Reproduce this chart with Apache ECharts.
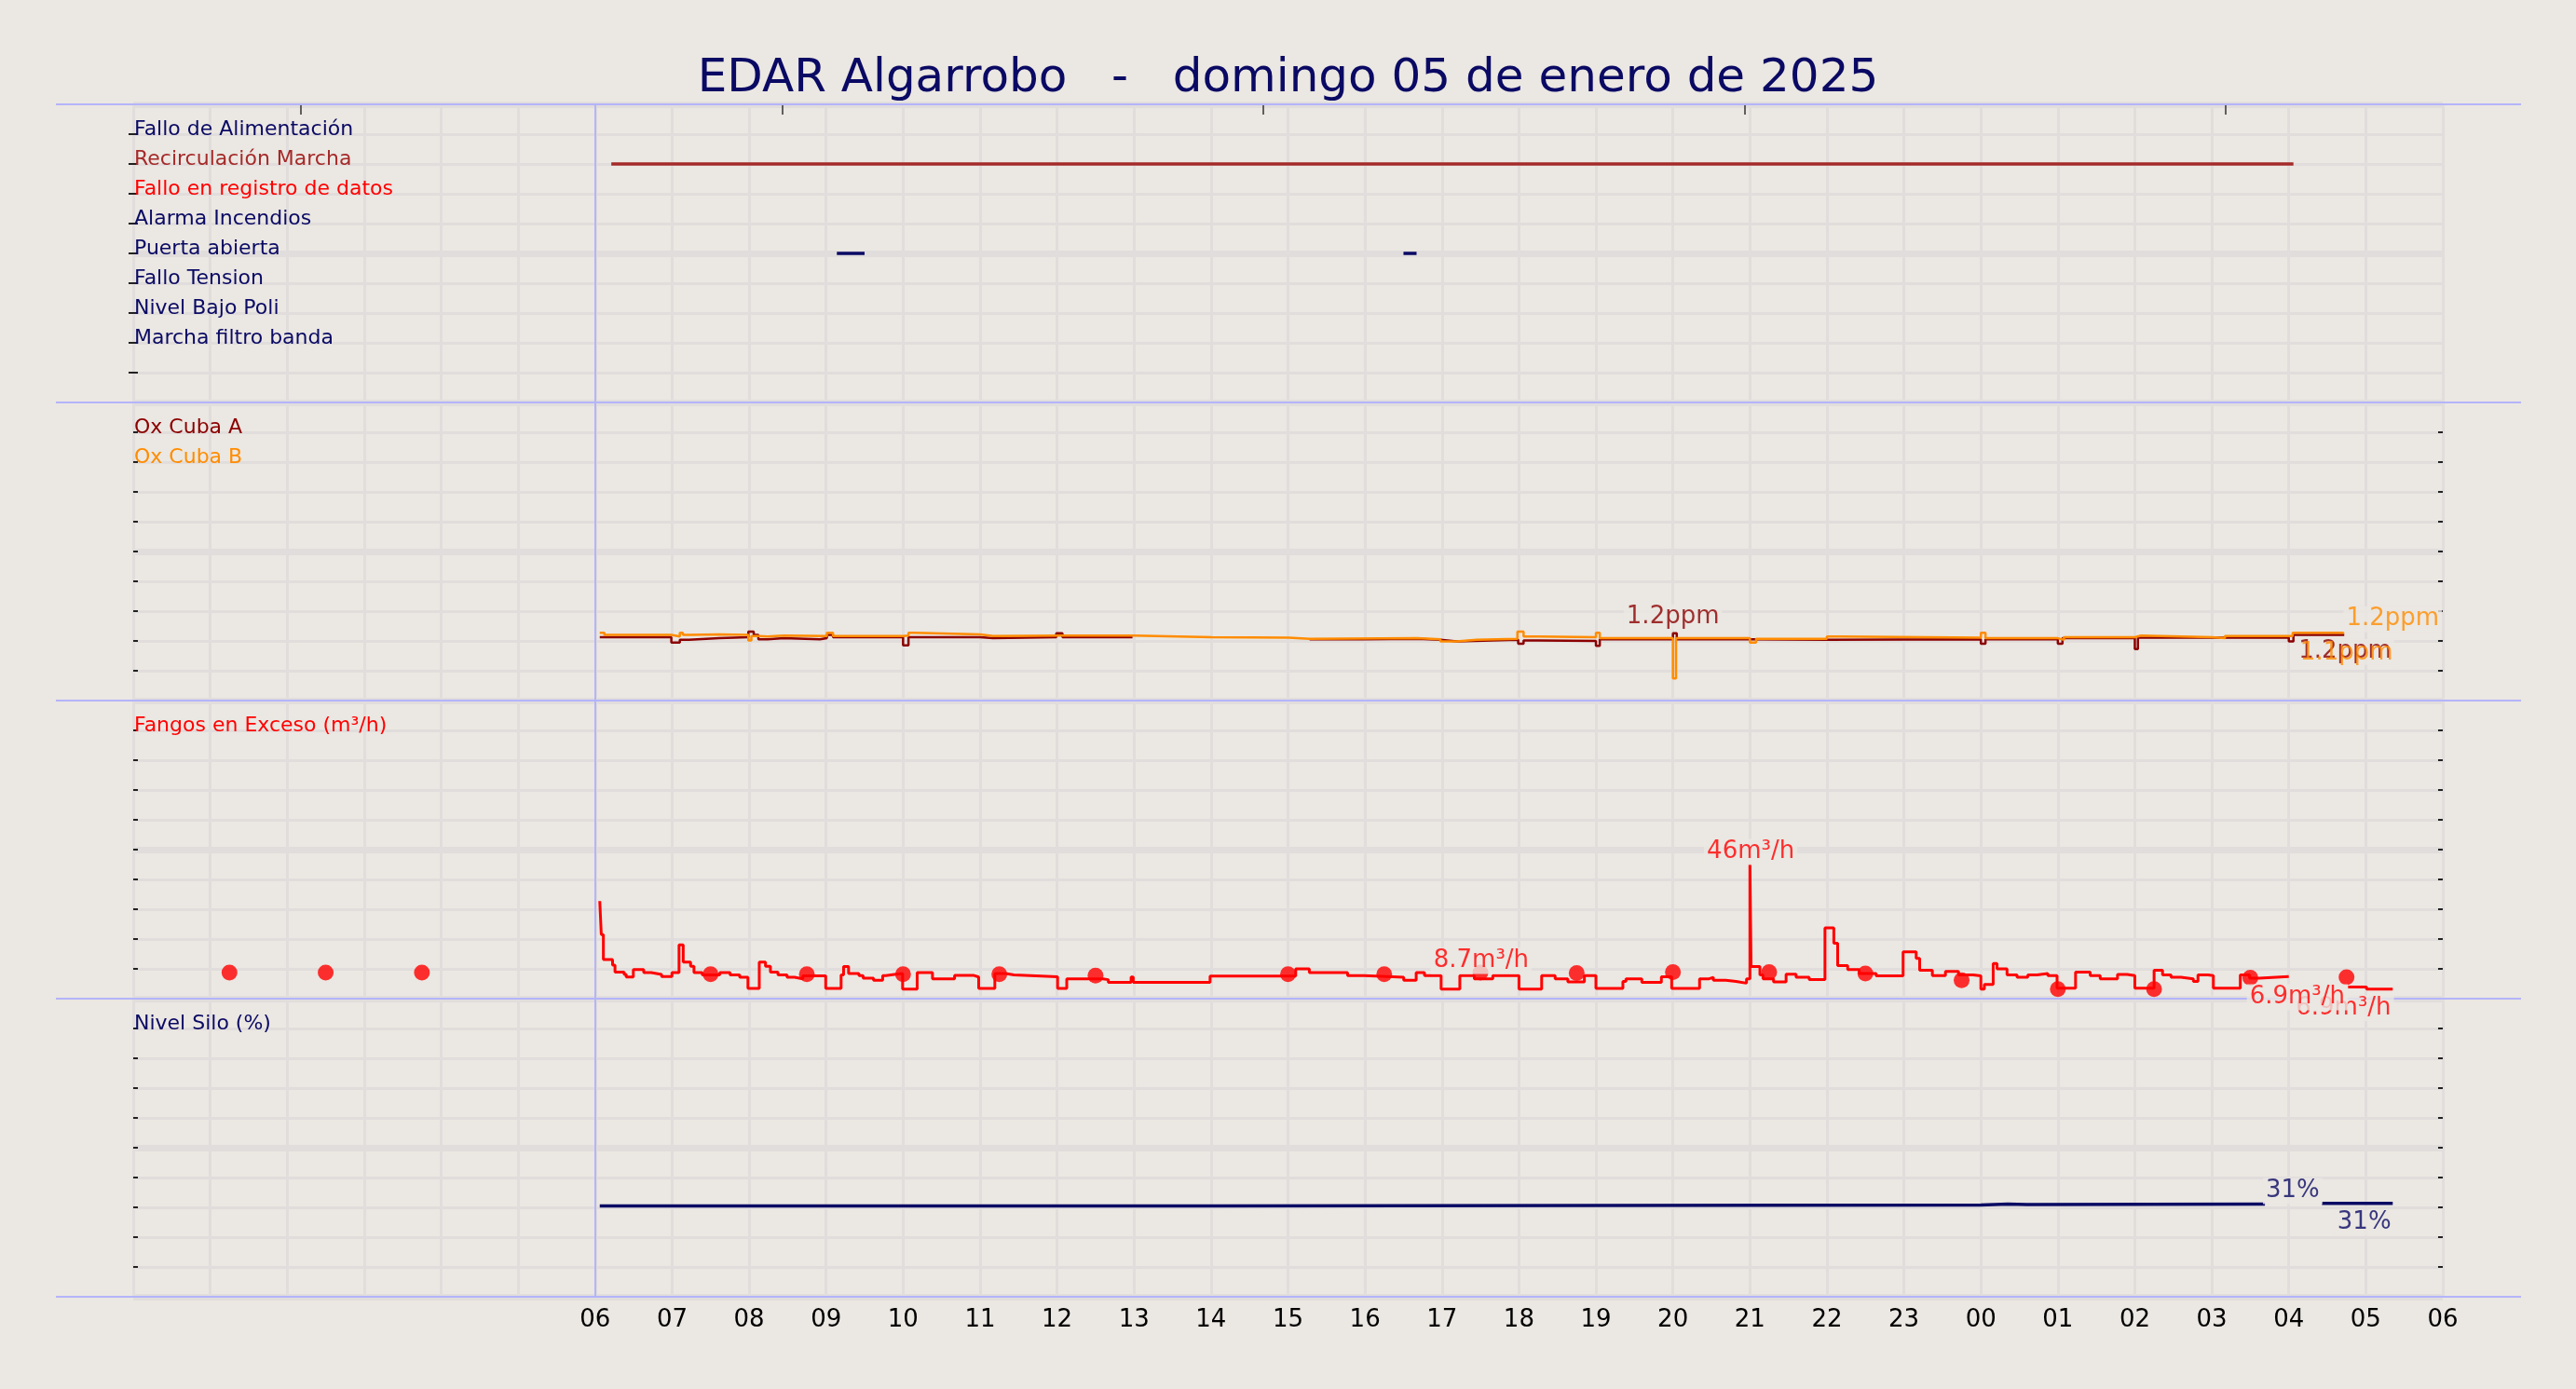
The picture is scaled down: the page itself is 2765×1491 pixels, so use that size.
<!DOCTYPE html>
<html><head><meta charset="utf-8">
<script src="https://cdn.jsdelivr.net/npm/echarts@6/dist/echarts.min.js"></script>
<style>html,body{margin:0;padding:0;background:#ebe7e2;}#c{width:2765px;height:1491px;}</style>
</head><body><div id="c"></div>
<script>
// ---------------- data ----------------
const chartTitle = 'EDAR Algarrobo   -   domingo 05 de enero de 2025';
// x axis: hours counted from 00:00 (0..30)
const hourMin = 0, hourMax = 30, firstLabelHour = 6;
const topTicks = [2.18, 8.43, 14.68, 20.93, 27.18];

const signalNames = ['Fallo de Alimentación', 'Recirculación Marcha', 'Fallo en registro de datos', 'Alarma Incendios',
  'Puerta abierta', 'Fallo Tension', 'Nivel Bajo Poli', 'Marcha filtro banda'];
const recircOn = [[6.21, 28.06]];
const puertaOn = [[9.14, 9.50], [16.50, 16.67]];

const oxNames = ['Ox Cuba A', 'Ox Cuba B'];
const oxA = [[6.06,1.17],[6.99,1.07],[7.10,1.12],[7.22,1.15],[7.61,1.17],[7.99,1.27],[8.06,1.21],[8.12,1.13],[8.24,1.15],
  [8.45,1.13],[8.92,1.15],[9.01,1.21],[9.09,1.17],[10.0,1.02],[10.07,1.17],[11.0,1.15],[11.17,1.17],[11.99,1.24],[12.07,1.17],
  [12.98,1.17],[12.98,null],[15.28,1.13],[15.98,1.14],[16.68,1.12],[16.98,1.09],[17.19,1.12],[17.99,1.05],[18.06,1.11],
  [18.25,1.10],[19.0,1.01],[19.05,1.13],[20.0,1.24],[20.05,1.13],[21.0,1.12],[22.0,1.13],[24.0,1.05],[24.06,1.13],
  [25.0,1.05],[25.06,1.15],[26.0,0.95],[26.04,1.16],[28.0,1.09],[28.06,1.21],[28.72,1.21]];
const oxB = [[6.06,1.25],[6.12,1.21],[6.99,1.18],[7.10,1.25],[7.14,1.21],[7.22,1.22],[7.61,1.21],[7.99,1.11],[8.03,1.19],
  [8.12,1.18],[8.24,1.20],[8.45,1.19],[9.01,1.25],[9.09,1.19],[10.0,1.20],[10.07,1.25],[10.15,1.22],[11.0,1.19],[11.17,1.20],
  [12.06,1.20],[12.99,1.17],[14.01,1.16],[15.01,1.14],[15.28,1.15],[16.68,1.13],[16.98,1.09],[17.19,1.12],[17.45,1.14],
  [17.98,1.27],[18.06,1.18],[18.25,1.17],[19.0,1.25],[19.05,1.15],[20.0,0.41],[20.04,1.15],[21.0,1.07],[21.08,1.14],
  [22.0,1.18],[22.17,1.16],[24.0,1.25],[24.06,1.15],[25.0,1.12],[25.08,1.17],[26.0,1.20],[26.08,1.17],[27.0,1.15],
  [27.17,1.19],[28.05,1.25],[28.72,1.25]];
const oxNotesA = [[20.0, 1.54, '1.2ppm'], [28.73, 0.90, '1.2ppm']];
const oxNotesB = [[29.35, 1.50, '1.2ppm'], [28.75, 0.87, '1.1ppm']];

const fangosNames = ['Fangos en Exceso (m³/h)'];
const fangos = [[6.06,33.4],[6.08,21.9],[6.107,13.4],[6.226,11.5],[6.258,9.1],[6.377,8.3],[6.404,7.4],[6.496,10.0],
  [6.631,8.9],[6.728,8.3],[6.863,7.6],[6.998,8.9],[7.09,18.4],[7.144,12.5],[7.24,11.1],[7.284,8.9],[7.392,8.1],[7.619,8.9],
  [7.753,8.1],[7.878,7.3],[7.985,3.5],[8.132,12.5],[8.213,11.1],[8.277,9.1],[8.375,8.1],[8.493,7.3],[8.59,6.8],[8.698,7.8],
  [8.995,3.5],[9.195,8.1],[9.227,11.0],[9.292,8.6],[9.427,7.9],[9.481,7.0],[9.616,6.3],[9.735,7.9],[9.777,8.3],[9.886,8.6],
  [9.994,3.3],[10.183,8.9],[10.382,6.8],[10.669,8.0],[10.912,7.4],[10.982,3.5],[11.192,8.6],[11.333,8.1],[11.44,7.5],
  [12.007,3.5],[12.126,6.8],[12.596,6.5],[12.666,5.6],[12.962,7.4],[12.99,5.6],[13.988,7.7],[15.1,10.2],[15.277,8.9],
  [15.774,7.9],[15.99,7.3],[16.503,6.3],[16.665,8.9],[16.773,7.9],[16.989,3.3],[17.232,7.9],[17.42,6.8],[17.66,7.9],
  [18.0,3.3],[18.295,7.9],[18.47,6.8],[18.635,5.7],[18.85,7.9],[19.0,3.5],[19.35,5.9],[19.39,6.8],[19.596,5.6],[19.85,7.5],
  [19.984,3.5],[20.346,6.8],[20.47,7.3],[20.525,6.3],[20.687,5.9],[20.82,5.3],[20.956,6.8],[21.0,46.0],[21.015,11.0],
  [21.13,8.1],[21.17,6.8],[21.307,5.7],[21.47,8.4],[21.6,7.3],[21.77,6.5],[21.975,24.2],[22.09,19.0],[22.14,11.3],
  [22.27,10.0],[22.42,8.6],[22.64,7.8],[22.99,16.0],[23.16,13.8],[23.205,9.7],[23.37,7.9],[23.54,9.3],[23.71,8.1],
  [23.90,7.8],[24.0,3.3],[24.045,4.9],[24.16,12.0],[24.21,10.2],[24.34,8.1],[24.47,7.3],[24.61,8.1],[24.73,8.6],[24.87,7.9],
  [24.99,3.6],[25.23,9.1],[25.42,7.9],[25.55,6.8],[25.775,8.3],[25.90,7.9],[26.0,3.6],[26.25,9.7],[26.36,8.1],[26.47,7.3],
  [26.6,6.8],[26.76,5.9],[26.82,8.1],[26.95,7.9],[27.02,3.6],[27.37,8.1],[27.49,7.0],[27.62,7.6],[28.0,7.6],[28.0,null],
  [28.77,4.0],[29.01,3.3],[29.35,3.3]];
const fangosSamples = [[1.25,8.9],[2.5,8.9],[3.75,8.9],[7.5,8.4],[8.75,8.4],[10.0,8.4],[11.25,8.4],[12.5,7.9],[15.0,8.4],
  [16.25,8.4],[17.5,8.9],[18.75,8.8],[20.0,9.1],[21.25,9.1],[22.5,8.6],[23.75,6.3],[25.0,3.3],[26.25,3.3],[27.5,7.2],[28.75,7.3]];
const fangosNotes = [[28.71, -3.3, '6.9m³/h'], [21.01, 50.2, '46m³/h'], [17.51, 12.9, '8.7m³/h'], [28.11, 0.5, '6.9m³/h']];

const siloNames = ['Nivel Silo (%)'];
const silo = [[6.06,30.5],[14.0,30.8],[24.0,31.1],[24.35,30.9],[24.6,31.1],[27.69,31.1],[27.69,null],[28.43,31.3],[29.35,31.3]];
const siloNotes = [[28.05, 35.5, '31%'], [28.98, 24.8, '31%']];

// ---------------- style ----------------
const FONT = 'DejaVu Sans';
const BG = '#ebe7e2', GRID = '#e1dddc', LAV = '#b4b4fa', NAVY = '#0a0a64', TICK = '#222';
const BROWN = '#a52a2a', RED = '#ff0000', DARKRED = '#8b0000', ORANGE = '#ff8c00';
const signalColors = [NAVY, BROWN, RED, NAVY, NAVY, NAVY, NAVY, NAVY];
const PANEL_TOP = 112, PANEL_H = 320, SIDE = 143;

function levelData(intervals, level) {
  const d = [];
  intervals.forEach(([a, b], i) => { if (i > 0) d.push([a, null]); d.push([a, level], [b, level]); });
  return d;
}
const pad2 = n => (n < 10 ? '0' : '') + n;

const grids = [0,1,2,3].map(i => ({left: SIDE, right: SIDE, top: PANEL_TOP + PANEL_H * i, height: PANEL_H}));
grids.push({left: 60, right: 59, top: PANEL_TOP, height: PANEL_H * 4});

const xAxes = [0,1,2,3].map(i => ({
  gridIndex: i, type: 'value', min: hourMin, max: hourMax, interval: 1,
  axisLine: {show: false, onZero: false}, axisTick: {show: false},
  axisLabel: {show: i === 3, fontSize: 26, fontFamily: FONT, color: '#000', margin: 12,
    formatter: v => (v < firstLabelHour ? '' : pad2(v % 24))},
  splitLine: {show: true, lineStyle: {color: GRID, width: 3}}
}));
xAxes.push({gridIndex: 0, type: 'value', position: 'top', min: hourMin, max: hourMax,
  axisLine: {show: false, onZero: false}, axisLabel: {show: false}, splitLine: {show: false},
  axisTick: {show: true, inside: true, length: 11, customValues: topTicks, lineStyle: {color: '#333', width: 1.5}}});
xAxes.push({gridIndex: 4, type: 'value', min: 0, max: 1, show: false});

function panelAxes(i, names, colors, min, max, interval) {
  const rich = {};
  names.forEach((n, k) => { rich['s' + k] = {color: colors[k], fontSize: 22, fontFamily: FONT, lineHeight: 10}; });
  return [
    {gridIndex: i, type: 'value', min: 0, max: 10, interval: 1, position: 'left',
      axisLine: {show: false},
      axisTick: {show: true, inside: true, length: 5, lineStyle: {color: TICK, width: 2}},
      axisLabel: {show: true, inside: true, margin: 1, verticalAlign: 'bottom',
        formatter: v => { const k = 9 - v; return (k >= 0 && k < names.length) ? '{s' + k + '|' + names[k] + '}' : ''; }, rich},
      splitLine: {show: true, lineStyle: {color: GRID, width: 3}}},
    {gridIndex: i, type: 'value', min, max, interval, position: 'right',
      axisLine: {show: false},
      axisTick: {show: true, inside: true, length: 5, lineStyle: {color: TICK, width: 2}},
      axisLabel: {show: false}, splitLine: {show: false}},
    {gridIndex: i, type: 'value', min: 0, max: 10, interval: 5, position: 'left',
      axisLine: {show: false}, axisTick: {show: false}, axisLabel: {show: false},
      splitLine: {show: true, lineStyle: {color: GRID, width: 7}}}
  ];
}
const yAxes = [].concat(
  panelAxes(0, signalNames, signalColors, 0, 10, 1),
  panelAxes(1, oxNames, [DARKRED, ORANGE], 0, 5.5, 0.55),
  panelAxes(2, fangosNames, [RED], 0, 102, 10.2),
  panelAxes(3, siloNames, [NAVY], 0, 100, 10)
);
yAxes.push({gridIndex: 4, type: 'value', min: 0, max: 4, interval: 1, z: 1,
  axisLine: {show: false}, axisTick: {show: false}, axisLabel: {show: false},
  splitLine: {show: true, lineStyle: {color: LAV, width: 2}}});

const sixLine = {silent: true, symbol: ['none', 'none'], label: {show: false},
  lineStyle: {color: LAV, width: 2, type: 'solid'}, data: [{xAxis: 6}]};

function lineSeries(xi, yi, data, color, width, step, withMark) {
  const s = {type: 'line', xAxisIndex: xi, yAxisIndex: yi, data, showSymbol: false, symbol: 'none',
    lineStyle: {color, width}, itemStyle: {color}, connectNulls: false, silent: true, z: 3};
  if (step) s.step = 'end';
  if (withMark) s.markLine = sixLine;
  return s;
}
function noteSeries(xi, yi, notes, color, boxless) {
  return {type: 'scatter', xAxisIndex: xi, yAxisIndex: yi, symbol: 'circle', symbolSize: 0.01,
    itemStyle: {color: 'transparent'}, clip: false, silent: true, z: 10,
    data: notes.map((n, k) => ({value: [n[0], n[1]], label: {show: true, position: 'inside', formatter: n[2],
      color, fontSize: 26, fontFamily: FONT,
      backgroundColor: (boxless || []).includes(k) ? 'transparent' : BG, padding: [1, 3]}}))};
}

const series = [
  lineSeries(0, 1, levelData(recircOn, 10 - 2), BROWN, 3.5, false, true),
  lineSeries(0, 1, levelData(puertaOn, 10 - 5), NAVY, 3.5, false, false),
  lineSeries(1, 4, oxA, DARKRED, 2.5, true, true),
  lineSeries(1, 4, oxB, ORANGE, 2.5, true, false),
  noteSeries(1, 4, oxNotesA, DARKRED),
  noteSeries(1, 4, oxNotesB, ORANGE, [1]),
  lineSeries(2, 7, fangos, RED, 3, true, true),
  {type: 'scatter', xAxisIndex: 2, yAxisIndex: 7, data: fangosSamples, symbolSize: 17,
    itemStyle: {color: RED}, silent: true, z: 4},
  noteSeries(2, 7, fangosNotes, RED),
  lineSeries(3, 10, silo, NAVY, 3.5, true, true),
  noteSeries(3, 10, siloNotes, NAVY),
  {type: 'line', xAxisIndex: 5, yAxisIndex: 12, data: [], silent: true}
];

const chart = echarts.init(document.getElementById('c'), null, {renderer: 'canvas', width: 2765, height: 1491});
chart.setOption({
  animation: false,
  backgroundColor: BG,
  title: {text: chartTitle, left: 'center', top: 60, padding: 0,
    textStyle: {fontSize: 50, fontWeight: 'normal', color: NAVY, fontFamily: FONT}},
  grid: grids,
  xAxis: xAxes,
  yAxis: yAxes,
  series
});
</script></body></html>
